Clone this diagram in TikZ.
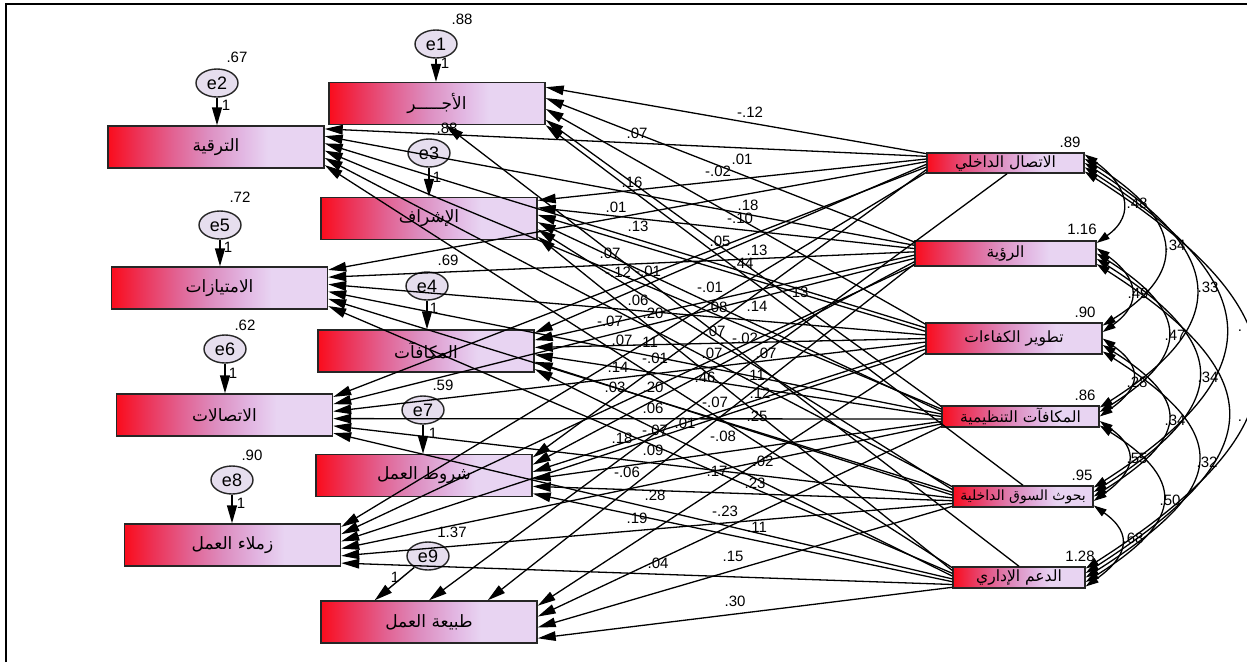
\documentclass[tikz,border=0pt]{standalone}
\usepackage{fontspec}
\setmainfont{Liberation Sans}
\newfontfamily\arabicfont[Script=Arabic]{DejaVu Sans}
\TeXXeTstate=1
\usetikzlibrary{arrows.meta,calc,shapes.geometric}

\definecolor{amR}{RGB}{250,12,28}
\definecolor{amA}{RGB}{236,52,88}
\definecolor{amB}{RGB}{226,98,146}
\definecolor{amC}{RGB}{221,142,192}
\definecolor{amD}{RGB}{226,182,226}
\definecolor{amL}{RGB}{232,212,242}
\definecolor{errfill}{RGB}{230,222,238}
\pgfdeclarehorizontalshading{amosfill}{100bp}{color(0bp)=(amR); color(25bp)=(amR); color(32bp)=(amA); color(40bp)=(amB); color(48bp)=(amC); color(56bp)=(amD); color(62bp)=(amL); color(100bp)=(amL)}

\tikzset{
  lbox/.style={draw=black!85, line width=1.4pt, shading=amosfill, minimum width=216pt,
    minimum height=42pt, inner sep=0pt, font=\arabicfont\fontsize{17}{19}\selectfont},
  rbox/.style={draw=black!85, line width=1.4pt, shading=amosfill, inner sep=0pt,
    font=\arabicfont\fontsize{15.5}{17}\selectfont},
  err/.style={ellipse, draw=black!85, line width=1.4pt, fill=errfill, minimum width=42pt,
    minimum height=28pt, inner sep=0pt, font=\fontsize{18}{20}\selectfont},
  earr/.style={line width=1.4pt, -{Triangle[length=18pt,width=10pt]}},
  pth/.style={line width=1.3pt, -{Triangle[length=18pt,width=9.5pt]}},
  cov/.style={line width=1.3pt, {Triangle[length=13pt,width=8pt]}-{Triangle[length=13pt,width=8pt]}},
  wt/.style={inner sep=0pt, font=\fontsize{15}{17}\selectfont},
  one/.style={inner sep=0pt, font=\fontsize{15}{17}\selectfont}
}

\begin{document}
\begin{tikzpicture}[x=1pt,y=-1pt]
\useasboundingbox (0,0) rectangle (1247,662);
\draw[line width=2pt] (6,662) -- (6,4) -- (1247,4);

% dependent variables
\node[lbox] (t1) at (437,103.5) {\beginR الأجـــــر\endR};
\node[lbox] (t2) at (216,147) {\beginR الترقية\endR};
\node[lbox] (t3) at (429,218.5) {\beginR الإشراف\endR};
\node[lbox] (t4) at (219.5,288) {\beginR الامتيازات\endR};
\node[lbox] (t5) at (426,351) {\beginR المكافآت\endR};
\node[lbox] (t6) at (224.5,415) {\beginR الاتصالات\endR};
\node[lbox] (t7) at (424,475.5) {\beginR شروط العمل\endR};
\node[lbox] (t8) at (232.5,545) {\beginR زملاء العمل\endR};
\node[lbox] (t9) at (429,622) {\beginR طبيعة العمل\endR};

% independent variables
\node[rbox, minimum width=157pt, minimum height=20pt] (s1) at (1005.5,163) {\beginR الاتصال الداخلي\endR};
\node[rbox, minimum width=181pt, minimum height=25pt] (s2) at (1005.5,253.5) {\beginR الرؤية\endR};
\node[rbox, minimum width=176pt, minimum height=31pt] (s3) at (1014,338.5) {\beginR تطوير الكفاءات\endR};
\node[rbox, minimum width=157pt, minimum height=21pt] (s4) at (1020.5,416.5) {\beginR المكافآت التنظيمية\endR};
\node[rbox, minimum width=140pt, minimum height=21pt, font=\arabicfont\fontsize{14}{16}\selectfont] (s5) at (1023,496.5) {\beginR بحوث السوق الداخلية\endR};
\node[rbox, minimum width=132pt, minimum height=21pt] (s6) at (1019,577.5) {\beginR الدعم الإداري\endR};

% variances of the independent variables
\node[wt] (v1) at (1070,142) {.89};
\node[wt] (v2) at (1082,229) {1.16};
\node[wt] (v3) at (1085,312) {.90};
\node[wt] (v4) at (1085,395) {.86};
\node[wt] (v5) at (1082,475) {.95};
\node[wt] (v6) at (1080,556) {1.28};

% error terms
\node[err] (err1) at (436,44) {e1};
\node[err] (err2) at (217,83) {e2};
\node[err] (err3) at (429,153) {e3};
\node[err] (err5) at (220,225) {e5};
\node[err] (err4) at (427,286) {e4};
\node[err] (err6) at (225,349) {e6};
\node[err] (err7) at (423,410) {e7};
\node[err] (err8) at (232,480) {e8};
\node[err] (err9) at (428,556) {e9};

\foreach \n/\x/\y/\v in {a1/462/19/.88, a2/237/57/.67, a3/447/128/.88, a5/240/197/.72,
  a4/448/260/.69, a6/245/325/.62, a7/443/385/.59, a8/252/455/.90, a9/452/532/1.37}
  \node[wt] (\n) at (\x,\y) {\v};

\foreach \n/\x/\y in {b1/445/63, b2/226/105, b3/437/177, b5/228/247, b4/434/308,
  b6/233/373, b7/433/433, b8/241/503, b9/395/577}
  \node[one] (\n) at (\x,\y) {1};

% path coefficients
\foreach \x/\y/\v [count=\c] in {750/112/-.12, 637/133/.07, 742/159/.01, 718/171/-.02,
  632/182/.16, 616/207/.01, 748/205/.18, 740/218/-.10, 638/226/.13, 720/241/.05,
  757/250/.13, 610/253/.07, 743/263/.44, 618/272/-.12, 648/271/-.01, 798/292/.13,
  710/287/-.01, 638/300/.06, 717/307/.08, 757/306/.14, 653/313/.20, 610/321/-.07,
  715/331/.07, 745/338/-.02, 622/340/.07, 648/342/.11, 766/353/.07, 712/353/.07,
  655/358/-.01, 618/367/.14, 705/377/.46, 755/375/.11, 615/387/.03, 653/387/.20,
  760/393/.12, 715/402/-.07, 653/408/.06, 757/416/.25, 685/423/.01, 655/430/-.07,
  622/438/.18, 723/436/-.08, 653/450/.09, 763/461/.02, 627/472/-.06, 717/471/.17,
  655/495/.28, 755/483/.23, 725/511/-.23, 637/518/.19, 757/527/.11, 733/556/.15,
  658/563/.04, 735/601/.30}
  \node[wt] (w\c) at (\x,\y) {\v};

% covariance labels
\foreach \x/\y/\v [count=\c] in {1137/203/.48, 1175/245/.34, 1208/287/.33, 1240/331/.,
  1138/293/.49, 1175/335/.47, 1208/377/.34, 1240/421/., 1137/382/.28, 1175/420/.34,
  1207/462/.32, 1137/458/.55, 1170/500/.50, 1133/538/.68}
  \node[wt] (k\c) at (\x,\y) {\v};

% error arrows
\foreach \i/\j in {1/1,2/2,3/3,5/4,4/5,6/6,7/7,8/8}
  \draw[earr] (err\i.south) -- (err\i.south |- t\j.north);
\draw[earr] (err9) -- ($(t9.north west)!0.25!(t9.north east)$);

% regression paths
\foreach \s in {1,...,6}{
  \foreach \t in {1,...,9}{
    \pgfmathtruncatemacro\skipit{or(and(\s<3,\t==9),and(\s>4,\t==1))}
    \ifnum\skipit=0
      \pgfmathsetmacro\fs{\s<3 ? (\t-0.5)/8 : (\s>4 ? (\t-1.5)/8 : (\t-0.5)/9)}
      \pgfmathsetmacro\ft{\t==1 ? (\s-0.5)/4 : (\t==9 ? (\s-2.5)/4 : (\s-0.5)/6)}
      \draw[pth] ($(s\s.north west)!\fs!(s\s.south west)$) -- ($(t\t.north east)!\ft!(t\t.south east)$);
    \fi
  }
}
\draw[pth] ($(s1.south west)!0.51!(s1.south east)$) -- (t9.north);
\draw[pth] ($(s2.north west)!0.9!(s2.south west)$) -- ($(t9.north west)!0.77!(t9.north east)$);
\draw[pth] (s6.north) -- ($(t1.south west)!0.54!(t1.south east)$);
\draw[pth] (s5.north) -- (t1.south east);

% covariances
\foreach \i/\j in {1/2,1/3,1/4,1/5,1/6,2/3,2/4,2/5,2/6,3/4,3/5,3/6,4/5,4/6,5/6}{
  \pgfmathsetmacro\fa{(\j-1.5)/5}
  \pgfmathsetmacro\fb{(\i-0.5)/5}
  \pgfmathsetmacro\kk{{41,92,137,181,227}[\j-\i-1]}
  \pgfmathsetmacro\mm{29*(\j-\i)}
  \coordinate (ca) at ($(s\i.north east)!\fa!(s\i.south east)$);
  \coordinate (cb) at ($(s\j.north east)!\fb!(s\j.south east)$);
  \draw[cov] (ca) .. controls ($(ca)+(\kk,\mm)$) and ($(cb)+(\kk,-\mm)$) .. (cb);
}
\end{tikzpicture}
\end{document}
